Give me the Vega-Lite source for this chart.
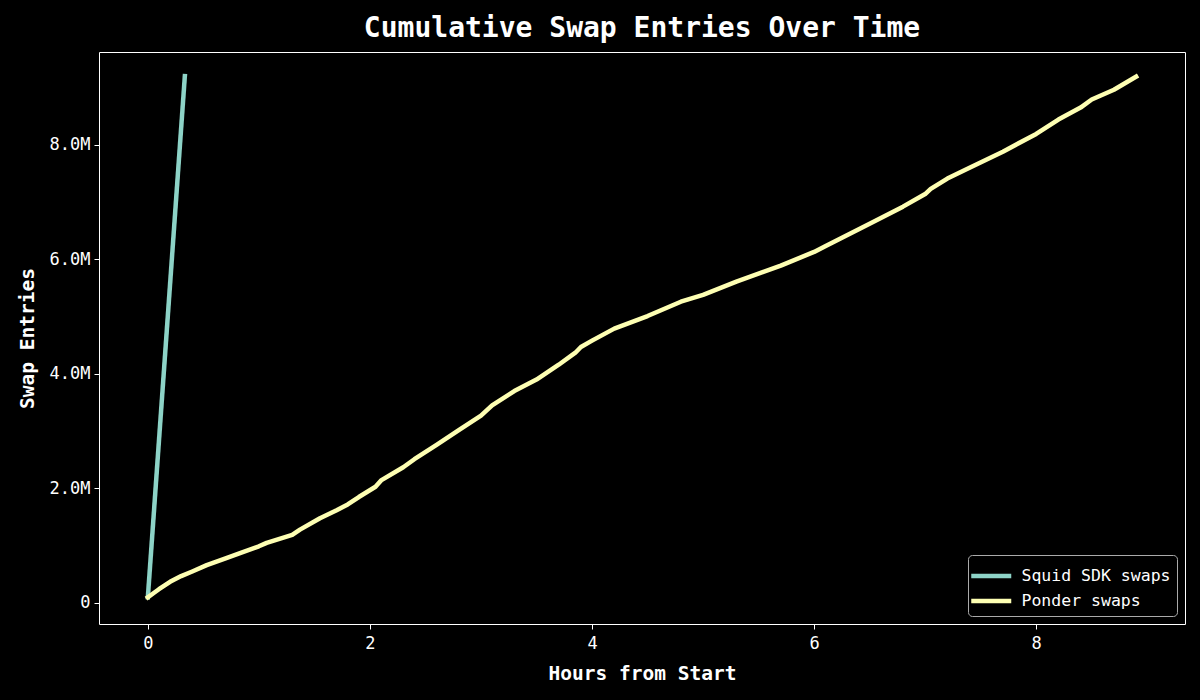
{
  "$schema": "https://vega.github.io/schema/vega-lite/v6.json",
  "width": 1086,
  "height": 572,
  "autosize": {"type": "none"},
  "padding": {"left": 99, "top": 52, "right": 15, "bottom": 76},
  "background": "black",
  "title": {"text": "Cumulative Swap Entries Over Time", "color": "white", "font": "DejaVu Sans Mono", "fontSize": 28, "fontWeight": "bold", "offset": 9},
  "config": {
    "view": {"stroke": "white", "strokeWidth": 1},
    "font": "DejaVu Sans Mono"
  },
  "data": {"values": [
    {"series": "Squid SDK swaps", "hours": 0, "entries": 100000},
    {"series": "Squid SDK swaps", "hours": 0.333, "entries": 9200000},
    {"series": "Ponder swaps", "hours": 0, "entries": 100000},
    {"series": "Ponder swaps", "hours": 0.05, "entries": 170000},
    {"series": "Ponder swaps", "hours": 0.1, "entries": 240000},
    {"series": "Ponder swaps", "hours": 0.2, "entries": 370000},
    {"series": "Ponder swaps", "hours": 0.3, "entries": 470000},
    {"series": "Ponder swaps", "hours": 0.4, "entries": 550000},
    {"series": "Ponder swaps", "hours": 0.53, "entries": 660000},
    {"series": "Ponder swaps", "hours": 0.7, "entries": 780000},
    {"series": "Ponder swaps", "hours": 0.83, "entries": 870000},
    {"series": "Ponder swaps", "hours": 1.0, "entries": 990000},
    {"series": "Ponder swaps", "hours": 1.07, "entries": 1050000},
    {"series": "Ponder swaps", "hours": 1.3, "entries": 1190000},
    {"series": "Ponder swaps", "hours": 1.37, "entries": 1280000},
    {"series": "Ponder swaps", "hours": 1.55, "entries": 1480000},
    {"series": "Ponder swaps", "hours": 1.7, "entries": 1620000},
    {"series": "Ponder swaps", "hours": 1.8, "entries": 1720000},
    {"series": "Ponder swaps", "hours": 1.9, "entries": 1850000},
    {"series": "Ponder swaps", "hours": 2.05, "entries": 2030000},
    {"series": "Ponder swaps", "hours": 2.1, "entries": 2140000},
    {"series": "Ponder swaps", "hours": 2.3, "entries": 2370000},
    {"series": "Ponder swaps", "hours": 2.4, "entries": 2510000},
    {"series": "Ponder swaps", "hours": 2.6, "entries": 2760000},
    {"series": "Ponder swaps", "hours": 2.8, "entries": 3020000},
    {"series": "Ponder swaps", "hours": 3.0, "entries": 3270000},
    {"series": "Ponder swaps", "hours": 3.1, "entries": 3450000},
    {"series": "Ponder swaps", "hours": 3.3, "entries": 3700000},
    {"series": "Ponder swaps", "hours": 3.5, "entries": 3900000},
    {"series": "Ponder swaps", "hours": 3.7, "entries": 4160000},
    {"series": "Ponder swaps", "hours": 3.85, "entries": 4370000},
    {"series": "Ponder swaps", "hours": 3.9, "entries": 4470000},
    {"series": "Ponder swaps", "hours": 4.0, "entries": 4580000},
    {"series": "Ponder swaps", "hours": 4.2, "entries": 4790000},
    {"series": "Ponder swaps", "hours": 4.5, "entries": 5010000},
    {"series": "Ponder swaps", "hours": 4.8, "entries": 5260000},
    {"series": "Ponder swaps", "hours": 5.0, "entries": 5380000},
    {"series": "Ponder swaps", "hours": 5.3, "entries": 5610000},
    {"series": "Ponder swaps", "hours": 5.7, "entries": 5890000},
    {"series": "Ponder swaps", "hours": 6.0, "entries": 6130000},
    {"series": "Ponder swaps", "hours": 6.1, "entries": 6230000},
    {"series": "Ponder swaps", "hours": 6.5, "entries": 6620000},
    {"series": "Ponder swaps", "hours": 6.8, "entries": 6920000},
    {"series": "Ponder swaps", "hours": 7.0, "entries": 7140000},
    {"series": "Ponder swaps", "hours": 7.05, "entries": 7230000},
    {"series": "Ponder swaps", "hours": 7.2, "entries": 7410000},
    {"series": "Ponder swaps", "hours": 7.4, "entries": 7600000},
    {"series": "Ponder swaps", "hours": 7.7, "entries": 7880000},
    {"series": "Ponder swaps", "hours": 8.0, "entries": 8190000},
    {"series": "Ponder swaps", "hours": 8.2, "entries": 8440000},
    {"series": "Ponder swaps", "hours": 8.4, "entries": 8650000},
    {"series": "Ponder swaps", "hours": 8.5, "entries": 8790000},
    {"series": "Ponder swaps", "hours": 8.7, "entries": 8960000},
    {"series": "Ponder swaps", "hours": 8.9, "entries": 9190000}
  ]},
  "mark": {"type": "line", "strokeWidth": 4.5, "strokeCap": "square", "strokeJoin": "round", "clip": true},
  "encoding": {
    "x": {"field": "hours", "type": "quantitative",
      "scale": {"domain": [-0.44, 9.34], "nice": false, "zero": false},
      "axis": {"title": "Hours from Start", "values": [0, 2, 4, 6, 8], "format": "d", "grid": false, "domain": false,
        "tickColor": "white", "tickSize": 5, "labelColor": "white", "labelFontSize": 17, "labelPadding": 6,
        "titleColor": "white", "titleFontSize": 19.5, "titleFontWeight": "bold", "titlePadding": 13}},
    "y": {"field": "entries", "type": "quantitative",
      "scale": {"domain": [-367000, 9620000], "nice": false, "zero": false},
      "axis": {"title": "Swap Entries", "values": [0, 2000000, 4000000, 6000000, 8000000],
        "labelExpr": "datum.value == 0 ? '0' : format(datum.value / 1000000, '.1f') + 'M'",
        "grid": false, "domain": false,
        "tickColor": "white", "tickSize": 5, "labelColor": "white", "labelFontSize": 17, "labelPadding": 4,
        "titleColor": "white", "titleFontSize": 19.5, "titleFontWeight": "bold", "titlePadding": 12}},
    "color": {"field": "series", "type": "nominal",
      "scale": {"domain": ["Squid SDK swaps", "Ponder swaps"], "range": ["#8dd3c7", "#feffb3"]},
      "legend": {"title": null, "orient": "bottom-right", "offset": 8, "symbolType": "M-1.6,0H1.6", "symbolSize": 625,
        "symbolOffset": 2.25, "symbolStrokeWidth": 4.5, "labelColor": "white", "labelFontSize": 16.5, "strokeColor": "#aaaaaa",
        "fillColor": "black", "cornerRadius": 4, "padding": 6, "rowPadding": 1, "labelOffset": 15.25}}
  }
}
